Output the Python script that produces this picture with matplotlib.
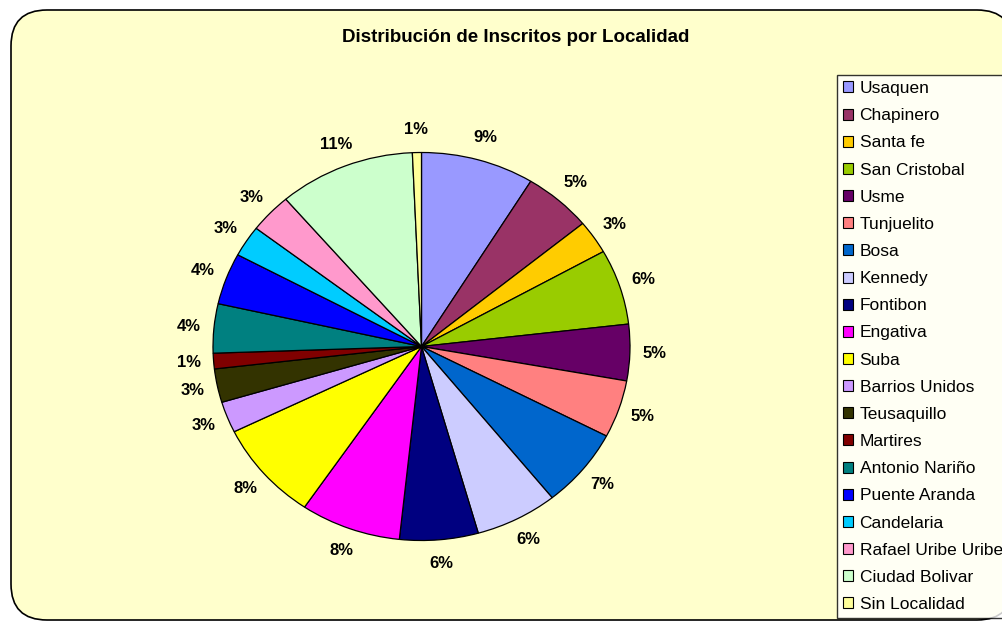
import matplotlib
matplotlib.use("Agg")
import matplotlib.pyplot as plt
from matplotlib.patches import FancyBboxPatch, Rectangle

plt.rcParams['font.family'] = ['Liberation Sans', 'DejaVu Sans']

localidades = ["Usaquen", "Chapinero", "Santa fe", "San Cristobal", "Usme",
               "Tunjuelito", "Bosa", "Kennedy", "Fontibon", "Engativa", "Suba",
               "Barrios Unidos", "Teusaquillo", "Martires", "Antonio Nariño",
               "Puente Aranda", "Candelaria", "Rafael Uribe Uribe",
               "Ciudad Bolivar", "Sin Localidad"]
porcentajes = [8.8, 5.3, 2.8, 6.3, 4.7, 4.8, 6.6, 6.4, 6.1, 7.8, 8.3,
               2.6, 2.8, 1.3, 4.1, 4.3, 2.6, 3.3, 10.6, 0.7]
colores = ["#9999FF", "#993366", "#FFCC00", "#99CC00", "#660066", "#FF8080",
           "#0066CC", "#CCCCFF", "#000080", "#FF00FF", "#FFFF00", "#CC99FF",
           "#333300", "#800000", "#008080", "#0000FF", "#00CCFF", "#FF99CC",
           "#CCFFCC", "#FFFF99"]

W, H = 1003, 623
fig = plt.figure(figsize=(W/100, H/100), dpi=100)
fig.patch.set_facecolor("white")

# background panel in pixel coords
bg = fig.add_axes([0, 0, 1, 1])
bg.set_xlim(0, W)
bg.set_ylim(H, 0)
bg.axis("off")
r = 36
bg.add_patch(FancyBboxPatch((11 + r, 10 + r), 1013 - 11 - 2*r, 620 - 10 - 2*r,
                            boxstyle="round,pad=%d" % r, facecolor="#FFFFCC",
                            edgecolor="black", linewidth=1.2))
bg.text(516, 37, "Distribución de Inscritos por Localidad", ha="center",
        va="center", fontsize=13.5, fontweight="bold")

# pie, slightly wider than tall like the original
cx, cy, rx, ry = 421.5, 346.5, 208.5, 194
ax = fig.add_axes([(cx - 1.3*rx)/W, (H - cy - 1.3*ry)/H, 2.6*rx/W, 2.6*ry/H])
wedges, txt, pct = ax.pie(porcentajes, colors=colores, startangle=90,
                          counterclock=False, autopct="%.0f%%",
                          pctdistance=1.12,
                          wedgeprops=dict(edgecolor="black", linewidth=0.9),
                          textprops=dict(fontsize=12, fontweight="bold"))
ax.set_aspect("auto")
ax.set_xlim(-1.3, 1.3)
ax.set_ylim(-1.3, 1.3)

handles = [Rectangle((0, 0), 1, 1, facecolor=c, edgecolor="black", linewidth=0.8)
           for c in colores]
leg = fig.legend(handles, localidades, loc="upper left",
                 bbox_to_anchor=(837/W, 1 - 75/H), fontsize=12.5,
                 frameon=True, fancybox=False, edgecolor="black",
                 handlelength=0.6, handleheight=0.6, handletextpad=0.35,
                 labelspacing=0.70, borderpad=0.35, borderaxespad=0)
leg.get_frame().set_linewidth(1.0)
leg.get_frame().set_facecolor("white")

fig.savefig("out.png", dpi=100)
